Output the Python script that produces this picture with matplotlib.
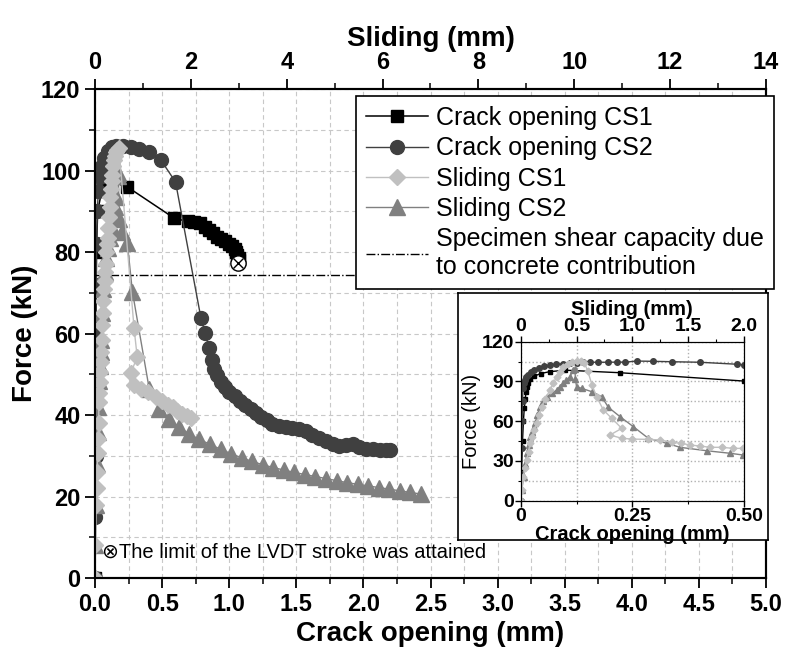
import numpy as np
import matplotlib.pyplot as plt
from matplotlib.lines import Line2D
from matplotlib.ticker import MultipleLocator, FixedLocator, FixedFormatter

plt.rcParams['font.family'] = ['Liberation Sans', 'DejaVu Sans']
plt.rcParams['font.weight'] = 'bold'
plt.rcParams['axes.labelweight'] = 'bold'

# ---- main plot data (crack opening in mm, sliding in mm, force in kN) ----
co1_x = [0, 0.005, 0.01, 0.02, 0.05, 0.1, 0.24, 0.59, 0.69, 0.74, 0.78, 0.82, 0.85, 0.88,
         0.91, 0.94, 0.97, 1.0, 1.02, 1.04, 1.05, 1.06, 1.07, 1.07]
co1_f = [0, 45, 80, 90, 95, 97.5, 96, 88.3, 87.5, 87.3, 87.0, 86.2, 85.4, 84.6,
         83.8, 83.2, 82.6, 82.0, 81.4, 80.8, 80.0, 79.3, 78.6, 78.0]

co2_x = [0, 0.002, 0.004, 0.006, 0.008, 0.01, 0.013, 0.017, 0.025, 0.035, 0.05, 0.07, 0.1,
         0.13, 0.16, 0.21, 0.266, 0.33, 0.40, 0.49, 0.60, 0.79, 0.82, 0.85, 0.87, 0.89,
         0.91, 0.94, 0.97, 1.0, 1.04, 1.08, 1.12, 1.16, 1.2, 1.24, 1.28, 1.32, 1.37, 1.42,
         1.47, 1.52, 1.57, 1.62, 1.67, 1.72, 1.77, 1.82, 1.87, 1.92, 1.97, 2.02, 2.07,
         2.12, 2.17, 2.2]
co2_f = [0, 15, 30, 45, 60, 72, 82, 90, 95, 98.5, 101, 103, 104.8,
         105.7, 106, 106, 105.8, 105.4, 104.6, 102.6, 97.2, 63.7, 60.1, 56.4, 53.5, 51.3,
         49.8, 48.2, 46.8, 45.6, 44.6, 43.5, 42.4, 41.4, 40.5, 39.6, 38.7, 37.8, 37.3, 37.0,
         36.8, 36.6, 36.0, 35.1, 34.3, 33.6, 32.9, 32.4, 32.6, 32.9, 32.2, 31.6, 31.6,
         31.5, 31.4, 31.4]

sl1_x = [0, 0.01, 0.023, 0.035, 0.045, 0.054, 0.065, 0.075, 0.083, 0.092, 0.1, 0.11, 0.12,
         0.13, 0.143, 0.155, 0.165, 0.177, 0.188, 0.2, 0.21, 0.22, 0.235, 0.25, 0.262, 0.275,
         0.29, 0.305, 0.322, 0.335, 0.35, 0.365, 0.38, 0.40, 0.42, 0.44, 0.46, 0.50, 0.815,
         0.88, 0.75, 0.815, 0.95, 1.1, 1.27, 1.4, 1.52, 1.62, 1.72, 1.82, 1.91, 2.0]
sl1_f = [0, 8, 18, 22, 26, 30.7, 34, 38, 43.3, 45.5, 48, 50.5, 53,
         55.5, 58.4, 62, 65, 68, 71, 73, 75, 77, 80, 82, 83.5, 86,
         88.5, 91, 93.6, 95.5, 97.5, 99, 101, 102.5, 103.5, 104.5, 105, 105.5, 61.3,
         54.3, 50.3, 47.4, 46.5, 45.6, 44.5, 43.5, 42.5, 42, 41, 40.3, 39.8, 39.2]

sl2_x = [0, 0.01, 0.025, 0.04, 0.054, 0.07, 0.083, 0.1, 0.115, 0.128, 0.15, 0.173, 0.2,
         0.233, 0.28, 0.322, 0.35, 0.38, 0.41, 0.44, 0.47, 0.49, 0.5, 0.56, 0.675, 0.78,
         1.13, 1.34, 1.55, 1.76, 1.97, 2.18, 2.40, 2.62, 2.84, 3.06, 3.28, 3.50, 3.72, 3.94,
         4.16, 4.38, 4.60, 4.82, 5.04, 5.26, 5.48, 5.70, 5.92, 6.14, 6.36, 6.58, 6.80]
sl2_f = [0, 8, 18, 28, 35.8, 42, 48.3, 52, 55.5, 58.4, 65, 71, 75,
         78.5, 81, 83.5, 86, 88.6, 91, 93.6, 98.6, 99.5, 88, 84.8, 82.1, 70.3,
         46.5, 41.5, 39, 37, 35.3, 34, 32.8, 31.6, 30.5, 29.5, 28.6, 27.8, 27.1, 26.5,
         25.9, 25.4, 24.9, 24.4, 23.9, 23.4, 23.0, 22.6, 22.2, 21.8, 21.4, 21.0, 20.6]

shear_cap = 74.3
lvdt_x, lvdt_f = 1.065, 77.3

# ---- inset data ----
ins_co1_x = [0, 0.002, 0.004, 0.006, 0.008, 0.010, 0.012, 0.014, 0.016, 0.020, 0.030, 0.045,
             0.065, 0.100, 0.222, 0.50]
ins_co1_f = [0, 25, 45, 60, 70, 77, 82, 86, 89, 91.5, 94, 96, 97.4, 98.5, 96.6, 90.3]

ins_co2_x = [0, 0.001, 0.002, 0.003, 0.004, 0.005, 0.007, 0.009, 0.012, 0.016, 0.022, 0.030,
             0.040, 0.052, 0.065, 0.080, 0.095, 0.110, 0.125, 0.140, 0.155, 0.174, 0.196,
             0.215, 0.234, 0.26, 0.297, 0.338, 0.401, 0.484, 0.5]
ins_co2_f = [0, 20, 40, 60, 75, 85, 89, 91, 93, 95, 97, 98.6, 100, 101.3, 102.3, 103, 103.5,
             103.9, 104.2, 104.4, 104.5, 104.5, 104.5, 104.6, 104.6, 105.4, 105.2, 104.9,
             104.5, 103, 102.6]

ins_sl1_x = [0, 0.01, 0.023, 0.04, 0.054, 0.07, 0.083, 0.1, 0.12, 0.143, 0.165, 0.188, 0.22,
             0.262, 0.29, 0.322, 0.35, 0.38, 0.42, 0.46, 0.5, 0.54, 0.57, 0.60, 0.64, 0.68,
             0.74, 0.815, 0.905, 0.80, 0.905, 1.0, 1.143, 1.248, 1.352, 1.44, 1.516, 1.606,
             1.695, 1.80, 1.905, 1.99]
ins_sl1_f = [0, 8, 18, 25, 30.7, 37, 43.3, 48, 53, 58.4, 65, 71, 77,
             83.5, 88.5, 93.6, 97.5, 101, 103.5, 105, 105.7, 105.5, 104, 98, 87, 78.5,
             68.5, 62.2, 54.6, 49.6, 47.1, 46.5, 46.3, 45.8, 44.1, 43.3, 42, 41.3,
             40.3, 40.3, 39.5, 39.5]

ins_sl2_x = [0, 0.01, 0.025, 0.04, 0.054, 0.07, 0.083, 0.1, 0.115, 0.128, 0.15, 0.173, 0.2,
             0.233, 0.28, 0.322, 0.35, 0.38, 0.41, 0.44, 0.47, 0.485, 0.49, 0.50, 0.546,
             0.636, 0.725, 0.785, 0.89, 1.01, 1.143, 1.308, 1.427, 1.666, 1.875, 1.99]
ins_sl2_f = [0, 8, 18, 28, 35.8, 42, 48.3, 52, 55.5, 58.4, 65, 71, 75,
             78.5, 81, 83.5, 86, 88.6, 91, 93.6, 98.6, 99.5, 92, 86, 84.8,
             82.3, 78.5, 70.5, 63.4, 55.8, 47.1, 43.3, 40.3, 37.7, 35.8, 34.5]

c_co1 = 'black'
c_co2 = '#404040'
c_sl1 = '#c0c0c0'
c_sl2 = '#808080'

fig = plt.figure(figsize=(8, 6.54), dpi=100)
ax = fig.add_axes([0.11875, 0.1162, 0.83875, 0.7477])
ax_top = ax.twiny()

# crack opening on the bottom axis
ax.plot(co1_x, co1_f, '-s', color=c_co1, ms=9, lw=1.1)
ax.plot(co2_x, co2_f, '-o', color=c_co2, ms=10, lw=1.0)
ax.axhline(shear_cap, color='black', ls='-.', lw=1.0)
ax.plot(lvdt_x, lvdt_f, 'o', mfc='white', mec='black', ms=11, mew=1.0)
ax.plot(lvdt_x, lvdt_f, 'x', color='black', ms=7, mew=1.0)
ax.text(0.05, 6.3, '\u2297The limit of the LVDT stroke was attained', fontsize=14.5,
        fontweight='normal', va='center', ha='left',
        family=['Liberation Sans', 'DejaVu Sans'])

# sliding on the top axis
ax_top.plot(sl2_x, sl2_f, '-^', color=c_sl2, ms=11, lw=1.0)
ax_top.plot(sl1_x, sl1_f, '-D', color=c_sl1, ms=8.5, lw=1.0)

ax.set_xlim(0, 5)
ax.set_ylim(0, 120)
ax_top.set_xlim(0, 14)
ax.xaxis.set_major_locator(MultipleLocator(0.5))
ax.xaxis.set_minor_locator(MultipleLocator(0.25))
ax.yaxis.set_major_locator(MultipleLocator(20))
ax.yaxis.set_minor_locator(MultipleLocator(10))
ax_top.xaxis.set_major_locator(MultipleLocator(2))
ax_top.xaxis.set_minor_locator(MultipleLocator(1))
ax.grid(which='both', color='#c8c8c8', ls=(0, (4, 3)), lw=0.8)
ax.set_axisbelow(True)

for a in (ax, ax_top):
    a.tick_params(which='major', direction='out', length=7, width=1.3, labelsize=17)
    a.tick_params(which='minor', direction='out', length=4, width=1.1)
    for sp in a.spines.values():
        sp.set_linewidth(1.5)

ax.set_xlabel('Crack opening (mm)', fontsize=20, labelpad=4)
ax.set_ylabel('Force (kN)', fontsize=20, labelpad=2)
ax_top.set_xlabel('Sliding (mm)', fontsize=20, labelpad=4)

handles = [
    Line2D([], [], color=c_co1, marker='s', ms=9, lw=1.1),
    Line2D([], [], color=c_co2, marker='o', ms=10, lw=1.0),
    Line2D([], [], color=c_sl1, marker='D', ms=8.5, lw=1.0),
    Line2D([], [], color=c_sl2, marker='^', ms=11, lw=1.0),
    Line2D([], [], color='black', ls='-.', lw=1.0),
]
labels = ['Crack opening CS1', 'Crack opening CS2', 'Sliding CS1', 'Sliding CS2',
          'Specimen shear capacity due\nto concrete contribution']
leg = ax_top.legend(handles, labels, loc='upper right', bbox_to_anchor=(0.9675, 0.8532),
                    bbox_transform=fig.transFigure, prop={'size': 18, 'weight': 'normal'},
                    fancybox=False, framealpha=1, edgecolor='black', handlelength=2.5,
                    handletextpad=0.32, labelspacing=0.25, borderpad=0.4, borderaxespad=0)
leg.get_frame().set_linewidth(1.2)

# ---- inset ----
box = fig.add_axes([0.5725, 0.1743, 0.3875, 0.3777])
box.set_xticks([])
box.set_yticks([])
for sp in box.spines.values():
    sp.set_linewidth(1.2)

ins = fig.add_axes([0.6509, 0.2344, 0.2791, 0.2431])
ins_top = ins.twiny()
ins.plot(ins_co1_x, ins_co1_f, '-s', color=c_co1, ms=3.5, lw=1.0)
ins.plot(ins_co2_x, ins_co2_f, '-o', color=c_co2, ms=4, lw=1.0)
ins_top.plot(ins_sl2_x, ins_sl2_f, '-^', color=c_sl2, ms=4.5, lw=1.0)
ins_top.plot(ins_sl1_x, ins_sl1_f, '-D', color=c_sl1, ms=3.5, lw=1.0)

ins.set_xlim(0, 0.5)
ins.set_ylim(0, 120)
ins_top.set_xlim(0, 2)
ins.xaxis.set_major_locator(FixedLocator([0, 0.25, 0.5]))
ins.xaxis.set_major_formatter(FixedFormatter(['0', '0.25', '0.50']))
ins.xaxis.set_minor_locator(MultipleLocator(0.125))
ins.yaxis.set_major_locator(MultipleLocator(30))
ins.yaxis.set_minor_locator(MultipleLocator(15))
ins_top.xaxis.set_major_locator(FixedLocator([0, 0.5, 1.0, 1.5, 2.0]))
ins_top.xaxis.set_major_formatter(FixedFormatter(['0', '0.5', '1.0', '1.5', '2.0']))
ins_top.xaxis.set_minor_locator(MultipleLocator(0.25))
ins.grid(which='both', color='#b0b0b0', ls=':', lw=1.0)
ins.set_axisbelow(True)
for a in (ins, ins_top):
    a.tick_params(which='major', direction='out', length=4, width=1.0, labelsize=14, pad=1)
    a.tick_params(which='minor', direction='out', length=2, width=0.8)
ins.set_xlabel('Crack opening (mm)', fontsize=14.5, labelpad=0.5)
ins.set_ylabel('Force (kN)', fontsize=14.5, fontweight='normal', labelpad=0)
ins_top.set_xlabel('Sliding (mm)', fontsize=14.5, labelpad=2)

fig.savefig('out.png', dpi=100)
